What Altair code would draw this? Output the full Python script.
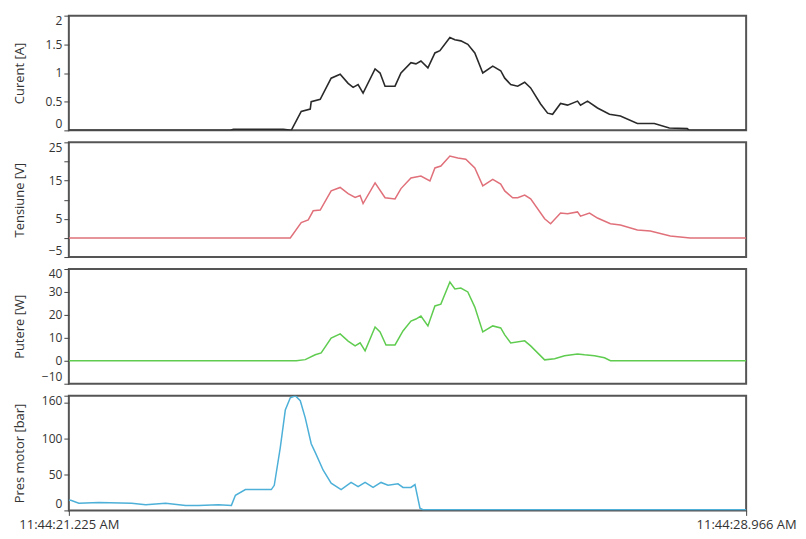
import altair as alt
import pandas as pd

# time offsets in seconds after 11:44:21.225 AM
x_range = [0.0, 7.741]
x_labels = ["11:44:21.225 AM", "11:44:28.966 AM"]

cur_t = [0.0, 1.847, 1.881, 2.451, 2.542, 2.656, 2.759, 2.770, 2.873, 2.998, 3.101, 3.192,
         3.249, 3.306, 3.363, 3.500, 3.557, 3.614, 3.728, 3.796, 3.910, 3.967, 4.024, 4.104,
         4.184, 4.241, 4.355, 4.412, 4.480, 4.560, 4.640, 4.731, 4.845, 4.936, 4.982, 5.050,
         5.130, 5.210, 5.278, 5.392, 5.472, 5.529, 5.620, 5.700, 5.814, 5.848, 5.928, 6.042,
         6.179, 6.304, 6.498, 6.692, 6.863, 7.068, 7.091, 7.741]
cur_v = [0.0, 0.0, 0.02, 0.02, 0.0, 0.33, 0.37, 0.50, 0.54, 0.91, 0.98, 0.82,
         0.75, 0.80, 0.65, 1.07, 1.00, 0.77, 0.77, 1.00, 1.18, 1.16, 1.21, 1.09,
         1.35, 1.39, 1.62, 1.58, 1.56, 1.50, 1.35, 1.00, 1.12, 1.04, 0.91, 0.80,
         0.77, 0.84, 0.74, 0.46, 0.30, 0.28, 0.47, 0.44, 0.51, 0.44, 0.51, 0.39,
         0.28, 0.25, 0.12, 0.12, 0.04, 0.03, 0.0, 0.0]

volt_t = [0.0, 2.531, 2.656, 2.736, 2.793, 2.873, 2.998, 3.101, 3.192, 3.272, 3.329, 3.363,
          3.500, 3.614, 3.728, 3.796, 3.910, 4.024, 4.127, 4.184, 4.252, 4.355, 4.446, 4.537,
          4.640, 4.731, 4.845, 4.936, 4.982, 5.073, 5.130, 5.210, 5.278, 5.438, 5.506, 5.620,
          5.700, 5.814, 5.848, 5.951, 6.042, 6.190, 6.304, 6.498, 6.646, 6.874, 7.102, 7.741]
volt_v = [0.0, 0.0, 4.0, 4.7, 7.1, 7.3, 12.3, 13.2, 11.6, 10.6, 11.1, 9.0,
          14.4, 10.5, 10.2, 12.9, 15.7, 16.2, 14.9, 18.3, 18.8, 21.4, 20.9, 20.6,
          18.3, 13.6, 15.3, 14.1, 12.3, 10.5, 10.5, 11.2, 10.2, 5.0, 3.7, 6.5,
          6.3, 6.8, 5.7, 6.5, 5.2, 3.7, 3.4, 2.1, 1.8, 0.5, 0.0, 0.0]

pow_t = [0.0, 2.599, 2.702, 2.816, 2.884, 2.998, 3.101, 3.192, 3.272, 3.329, 3.386, 3.500,
         3.557, 3.625, 3.728, 3.819, 3.910, 3.967, 4.024, 4.104, 4.184, 4.252, 4.355, 4.412,
         4.480, 4.560, 4.640, 4.731, 4.845, 4.936, 4.982, 5.050, 5.210, 5.278, 5.438, 5.552,
         5.666, 5.814, 5.894, 6.008, 6.122, 6.190, 7.741]
pow_v = [0.0, 0.0, 0.5, 2.6, 3.4, 9.9, 11.7, 8.6, 6.5, 7.8, 4.3, 14.7,
         12.6, 6.9, 6.9, 13.0, 17.3, 18.2, 19.5, 15.2, 23.9, 24.7, 34.3, 31.3,
         31.7, 30.0, 23.4, 12.6, 15.2, 14.3, 11.3, 7.8, 8.7, 6.5, 0.4, 0.9,
         2.2, 3.0, 2.6, 2.2, 1.3, 0.0, 0.0]

pres_t = [0.0, 0.023, 0.114, 0.342, 0.718, 0.878, 1.106, 1.334, 1.482, 1.710, 1.858, 1.904,
          2.018, 2.314, 2.348, 2.417, 2.474, 2.531, 2.588, 2.645, 2.702, 2.770, 2.816, 2.907,
          2.998, 3.112, 3.226, 3.306, 3.386, 3.477, 3.568, 3.648, 3.762, 3.819, 3.910, 3.956,
          4.013, 4.047, 7.741]
pres_v = [14, 14, 10, 11, 10, 8, 10, 7, 7, 8, 7, 21,
          29, 29, 35, 88, 140, 157, 160, 153, 129, 93, 81, 56,
          38, 29, 39, 33, 39, 32, 39, 35, 37, 32, 32, 36,
          3, 1, 1]

FONT = "Open Sans"
TXT = "#333333"
FRAME = "#555555"
W, H = 679, 115


def panel(t, v, color, title, domain, tick_vals, label_expr, bottom, sw=1.5):
    df = pd.DataFrame({"t": t, "v": v})
    if bottom:
        xaxis = alt.Axis(values=x_range, title=None, grid=False, domain=False,
                         labelExpr=f"datum.value < 1 ? '{x_labels[0]}' : '{x_labels[1]}'",
                         labelFlush=False, labelFont=FONT, labelFontSize=13,
                         labelColor=TXT, tickColor="#444", tickSize=5, labelPadding=3)
    else:
        xaxis = None
    yaxis = alt.Axis(values=tick_vals, title=title, grid=False, domain=False,
                     labelExpr=label_expr, format="~r", labelFont=FONT, labelFontSize=12,
                     labelFlush=True, labelFlushOffset=0,
                     labelColor=TXT, tickColor="#444", tickSize=5, labelPadding=2,
                     titleFont=FONT, titleFontSize=13, titleFontWeight="normal",
                     titleColor=TXT, minExtent=36, maxExtent=36, titlePadding=6)
    return alt.Chart(df).mark_line(color=color, strokeWidth=sw, clip=True).encode(
        x=alt.X("t:Q", scale=alt.Scale(domain=x_range, nice=False, zero=False), axis=xaxis),
        y=alt.Y("v:Q", scale=alt.Scale(domain=domain, nice=False, zero=False), axis=yaxis),
    ).properties(width=W, height=H,
                 view=alt.ViewConfig(stroke=FRAME, strokeWidth=2, strokeOpacity=1))


p1 = panel(cur_t, cur_v, "#2a2a2a", "Curent [A]", [0, 2], [0, 0.5, 1, 1.5, 2],
           "datum.label", False, sw=1.6)
p2 = panel(volt_t, volt_v, "#e0707a", "Tensiune [V]", [-5, 25], [-5, 0, 5, 10, 15, 20, 25],
           "datum.value % 10 == 0 ? '' : datum.label", False)
p3 = panel(pow_t, pow_v, "#5fcc50", "Putere [W]", [-10, 40], [-10, 0, 10, 20, 30, 40],
           "datum.label", False)
p4 = panel(pres_t, pres_v, "#4db0d8", "Pres motor [bar]", [0, 160], [0, 50, 100, 150, 160],
           "datum.value == 150 ? '' : datum.label", True)

chart = alt.vconcat(p1, p2, p3, p4, spacing=12, bounds="flush").properties(
    padding={"left": 5, "top": 5, "right": 0, "bottom": 5}
).configure_view(stroke=FRAME, strokeWidth=2).configure(background="white")

chart.save("out.html", embed_options={"renderer": "svg", "actions": False})
